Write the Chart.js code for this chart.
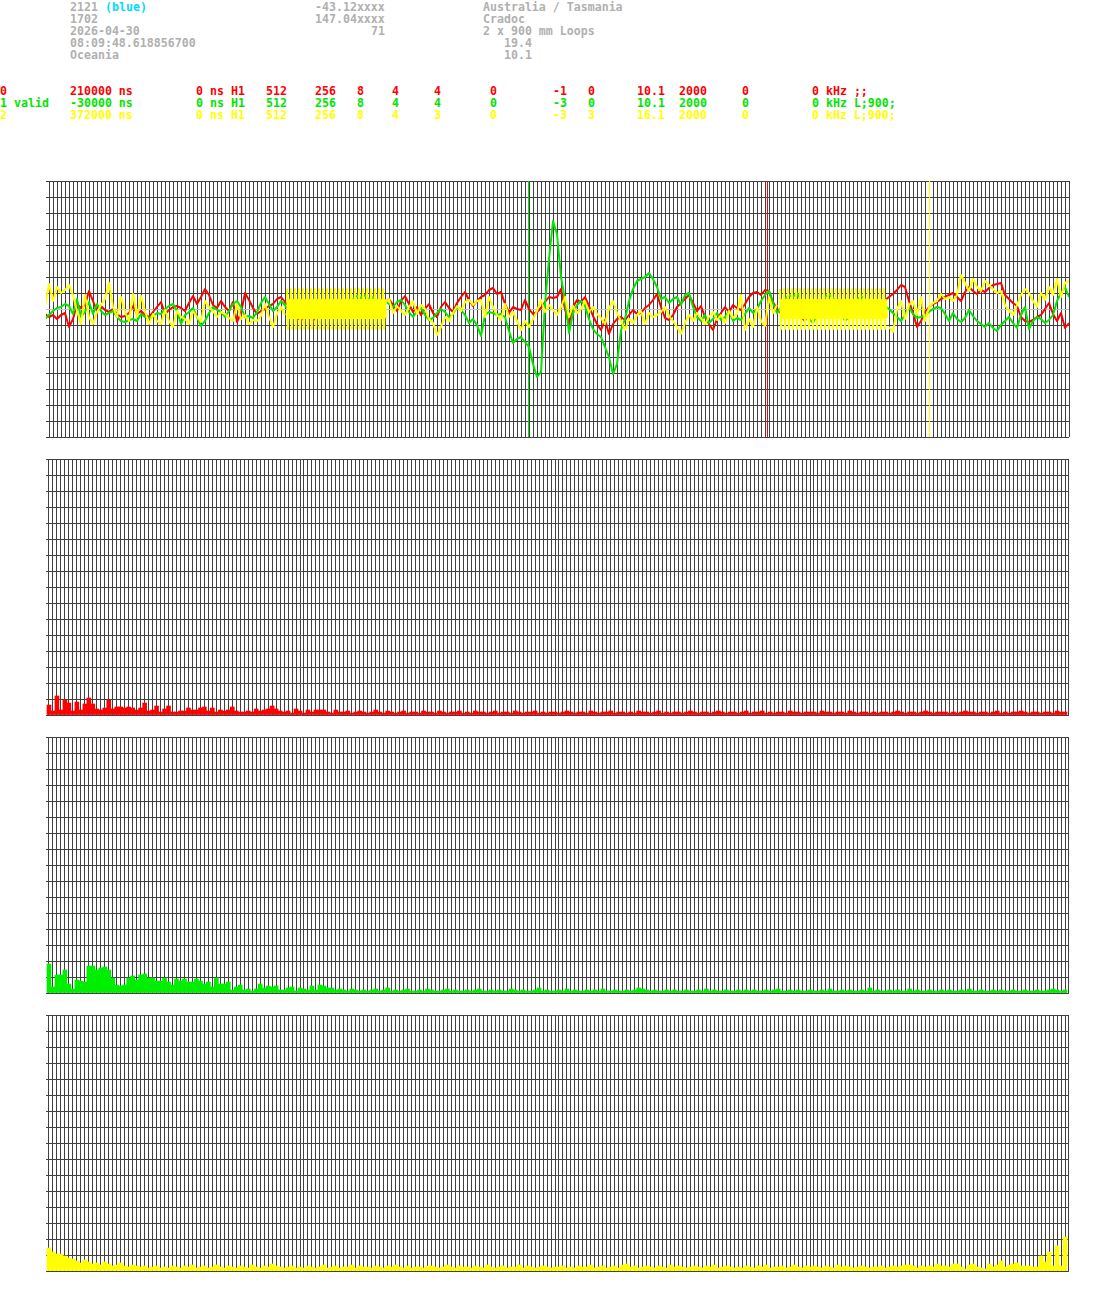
<!DOCTYPE html>
<html>
<head>
<meta charset="utf-8">
<script src="https://cdn.jsdelivr.net/npm/chart.js@4.4.1/dist/chart.umd.min.js"></script>
<style>
  body { margin: 0; background: #fff; width: 1095px; height: 1293px; position: relative; overflow: hidden; }
  .t { position: absolute; white-space: pre; font: bold 11.6px/12px "DejaVu Sans Mono", monospace; }
  .panel { position: absolute; left: 0; width: 1095px; height: 276px; }
</style>
</head>
<body>
<div id="txt"></div>
<div class="panel" style="top:171px"><canvas id="wave"></canvas></div>
<div class="panel" style="top:449px"><canvas id="histRed"></canvas></div>
<div class="panel" style="top:727px"><canvas id="histGreen"></canvas></div>
<div class="panel" style="top:1005px"><canvas id="histYellow"></canvas></div>
<script>
// text block: [column, text, colour]
const GRAY = '#b0b0b0', RED = '#ff0000', GREEN = '#00e600', YELLOW = '#ffff00', CYAN = '#00dcff';
const headerRows = [
  [[10, '2121', GRAY], [15, '(blue)', CYAN], [45, '-43.12xxxx', GRAY], [69, 'Australia / Tasmania', GRAY]],
  [[10, '1702', GRAY], [45, '147.04xxxx', GRAY], [69, 'Cradoc', GRAY]],
  [[10, '2026-04-30', GRAY], [53, '71', GRAY], [69, '2 x 900 mm Loops', GRAY]],
  [[10, '08:09:48.618856700', GRAY], [72, '19.4', GRAY]],
  [[10, 'Oceania', GRAY], [72, '10.1', GRAY]],
  [],
  [],
  [[0, '0'], [10, '210000 ns'], [28, '0 ns H1'], [38, '512'], [45, '256'], [51, '8'], [56, '4'], [62, '4'], [70, '0'], [79, '-1'], [84, '0'], [91, '10.1'], [97, '2000'], [106, '0'], [116, '0 kHz ;;']].map(p => [...p, RED]),
  [[0, '1 valid'], [10, '-30000 ns'], [28, '0 ns H1'], [38, '512'], [45, '256'], [51, '8'], [56, '4'], [62, '4'], [70, '0'], [79, '-3'], [84, '0'], [91, '10.1'], [97, '2000'], [106, '0'], [116, '0 kHz L;900;']].map(p => [...p, GREEN]),
  [[0, '2'], [10, '372000 ns'], [28, '0 ns H1'], [38, '512'], [45, '256'], [51, '8'], [56, '4'], [62, '3'], [70, '0'], [79, '-3'], [84, '3'], [91, '16.1'], [97, '2000'], [106, '0'], [116, '0 kHz L;900;']].map(p => [...p, YELLOW])
];

// waveform samples, one every 4 px, offset from centre line (up = positive)
const redTrace = [
  -5,-8,-6,-10,-6,-4,-18,-10,5,1,4,18,8,-2,3,-1,
  -3,0,-5,-8,-7,-4,3,-5,-2,-6,-8,-3,2,7,-5,-1,
  2,3,1,-2,6,13,5,12,20,14,4,1,8,2,-2,7,
  -13,-4,16,9,1,-5,-2,0,3,5,10,12,7,3,-4,-8,
  -12,-3,4,-12,-6,2,-8,1,-5,-2,-6,3,-7,0,4,-3,
  -5,2,-6,5,1,6,10,4,-2,8,13,5,-3,2,-6,0,
  5,-4,-8,2,7,1,-3,6,12,17,9,3,8,12,14,19,
  21,15,17,5,-4,2,0,-1,9,0,-5,-3,1,7,12,11,
  12,20,0,-15,2,9,7,12,3,-7,-15,-21,-11,-25,-15,-10,
  -8,-11,-6,-1,-5,-4,1,4,9,15,2,-9,-11,-6,2,6,
  10,14,6,-2,3,-8,-15,-21,-10,-4,2,-3,4,1,-1,5,
  12,16,17,14,19,18,7,0,-5,3,-10,-4,2,-8,-12,-3,
  1,-6,-9,0,-4,3,-7,-2,-11,-5,2,-3,-8,0,-6,4,
  1,6,9,12,15,19,24,22,8,-4,-18,-12,-3,2,5,7,
  10,12,14,16,12,8,17,22,18,15,19,17,21,24,25,26,
  14,10,6,3,-8,-12,-13,-11,-8,-6,0,6,-5,-12,-4,-19,
  -14
];
const greenTrace = [
  -10,-6,-2,1,2,5,3,-5,10,-8,-3,7,-5,5,-2,-6,
  -4,-2,-8,-12,-13,-11,-10,-12,-5,-8,-9,-7,-4,-5,0,3,
  5,-2,-15,-6,-3,1,-8,-17,-12,-4,2,-1,-3,-8,-2,5,
  8,2,-8,-7,-9,-3,6,12,5,-2,2,8,4,-3,2,-6,
  -10,0,4,-5,-8,3,6,-2,-7,1,5,8,4,10,13,11,
  14,9,12,6,3,8,5,2,7,9,4,-3,-8,-2,1,-6,
  -11,-9,-4,0,-3,-8,-5,2,-1,-6,-14,-10,-16,-27,-6,-3,
  -4,-6,-5,-8,-22,-34,-30,-28,-33,-38,-55,-68,-63,5,50,88,
  75,32,9,-24,-4,4,8,3,-10,-20,-25,-28,-38,-48,-65,-55,
  -21,-10,8,20,28,30,32,36,30,22,10,12,6,10,12,4,
  14,16,2,-8,-12,-6,-14,-10,-4,-11,-8,-2,-12,-9,-11,-5,
  1,-4,0,8,14,18,6,-4,2,10,14,12,16,8,4,-10,
  -14,-6,3,12,15,11,6,-4,-12,-8,2,9,13,10,4,-3,
  -9,-2,3,0,-4,-8,-12,-6,2,-5,-9,-8,-6,-3,0,2,
  1,-5,-12,-4,-10,-13,-9,-1,-7,-12,-15,-18,-14,-19,-22,-16,
  -12,-8,-14,-19,-6,2,-20,-12,-8,-10,-14,-11,-6,8,16,22,
  12
];
const yellowTrace = [
  2,25,8,22,16,19,24,14,-2,-15,14,-8,-15,-3,4,10,
  26,2,-8,12,-3,-12,15,-8,13,-2,-15,-5,-12,-15,-1,-12,
  -18,-2,-8,-10,-15,-2,-8,-13,8,2,-2,-8,-3,-5,-9,-12,
  5,-10,-6,-15,-11,-12,-7,5,-8,-18,-5,2,-6,null,null,null,
  null,null,null,null,null,null,null,null,null,null,null,null,null,null,null,null,
  null,null,null,null,null,6,10,-4,3,-2,-6,2,8,-5,4,0,
  -10,-14,-26,-18,-8,-12,-4,3,-2,7,9,4,8,9,-8,12,
  2,-6,-11,5,-8,-3,-12,-21,-12,-18,-10,-2,9,-3,4,-1,
  -6,2,12,-8,3,-4,0,8,-3,2,-5,-9,-15,1,8,-4,
  -12,-21,-10,-14,-6,-2,-15,-4,-8,-6,-3,2,-7,-12,-18,-25,
  -14,-6,-12,-4,-9,-15,-8,-3,-11,-6,-14,-2,-9,-5,14,-21,
  -10,-18,2,-12,-17,12,-4,4,null,null,null,null,null,null,null,null,
  null,null,null,null,null,null,null,null,null,null,null,null,null,null,null,null,
  null,null,null,-18,-23,0,8,-10,4,8,-6,12,-12,2,6,8,
  15,10,12,8,14,34,26,18,30,22,18,28,24,20,16,18,
  4,-2,-6,4,14,20,16,8,2,16,9,22,14,30,12,26,
  28
];
// fast burst segments of the yellow channel, one sample per px
const burst1Start = 238;
const burst1 = [
  20,-20,9,-9,20,-20,9,-9,20,-20,9,-9,20,-20,9,-9,20,-20,9,-9,
  20,-20,9,-9,20,-20,9,-9,20,-20,9,-9,20,-20,9,-9,20,-20,9,-9,
  20,-20,9,-9,20,-20,9,-9,20,-20,9,-9,20,-20,9,-9,20,-20,9,-9,
  20,-20,9,-9,20,-20,9,-9,20,-20,9,-9,20,-20,9,-9,20,-20,9,-9,
  20,-20,9,-9,20,-20,9,-9,20,-20,9,-9,20,-20,9,-9,20,-20,9,-9
];
const burst2Start = 731;
const burst2 = [
  20,-20,9,-9,20,-20,9,-9,20,-20,9,-9,20,-20,9,-9,20,-20,9,-9,
  20,-20,9,-9,20,-20,9,-9,20,-20,9,-9,20,-20,9,-9,20,-20,9,-9,
  20,-20,9,-9,20,-20,9,-9,20,-20,9,-9,20,-20,9,-9,20,-20,9,-9,
  20,-20,9,-9,20,-20,9,-9,20,-20,9,-9,20,-20,9,-9,20,-20,9,-9,
  20,-20,9,-9,20,-20,9,-9,20,-20,9,-9,20,-20,9,-9,20,-20,9,-9,
  20,-20,9,-9,20,-20,9,-9
];
// trigger markers (sample position) and colours
const markerPos = [479.5, 718.5, 880.5];
const markerColors = [GREEN, RED, YELLOW];

// spectra, 256 bins each
const redHist = [
  10,4,19,5,15,12,4,13,5,11,17,11,6,5,7,15,
  6,8,8,7,8,7,5,7,12,4,5,9,3,6,9,3,
  3,4,4,7,5,5,7,8,4,7,3,5,4,5,8,4,
  3,3,4,3,6,4,5,6,9,6,4,3,4,2,6,4,
  2,5,3,5,5,5,3,2,5,3,3,4,2,3,4,3,
  2,3,5,3,2,4,3,2,3,4,2,3,3,2,4,3,
  3,2,4,3,2,3,3,4,2,3,2,4,3,3,2,3,
  4,2,3,3,2,4,3,2,3,3,4,2,3,2,3,3,
  2,3,4,3,2,3,3,2,4,3,2,3,3,4,2,3,
  3,2,3,2,4,3,3,2,3,4,2,3,2,3,3,2,
  3,4,3,2,3,3,2,3,4,3,2,3,3,2,3,4,
  2,3,3,4,2,3,2,3,3,2,4,3,3,2,3,3,
  3,2,4,3,3,2,3,3,2,4,3,2,3,3,2,3,
  2,3,3,2,3,4,3,2,3,3,2,3,4,3,2,3,
  3,3,2,3,2,3,4,3,3,2,3,3,2,3,4,2,
  3,2,3,3,4,3,2,3,3,2,3,3,2,4,3,3
];
const greenHist = [
  29,6,18,18,23,9,4,13,12,11,27,27,23,25,26,23,
  15,8,7,8,15,17,13,18,19,15,15,12,12,15,11,8,
  14,12,14,11,11,14,12,9,11,6,15,9,9,11,3,6,
  8,3,4,2,4,9,5,7,6,7,3,3,5,6,2,5,
  4,3,7,3,8,7,5,5,3,4,3,2,4,3,2,3,
  2,3,4,2,3,5,2,3,2,3,4,2,2,3,2,4,
  3,2,2,3,4,2,3,2,2,3,2,3,4,2,2,3,
  2,3,2,2,4,3,2,3,2,2,3,5,2,3,2,2,
  3,2,4,2,3,2,2,3,2,3,2,4,2,2,3,2,
  2,3,2,3,5,4,3,2,3,2,2,3,2,3,2,2,
  3,2,2,3,2,4,2,3,2,2,3,2,2,3,2,3,
  2,3,2,2,3,2,3,4,2,2,3,2,3,2,2,3,
  2,2,3,2,4,2,2,3,2,3,2,2,3,2,5,2,
  3,2,2,3,2,3,2,2,4,2,3,2,2,3,2,2,
  3,2,3,2,2,3,2,4,2,2,3,2,2,3,2,3,
  2,2,3,2,2,3,2,2,3,2,2,3,4,3,2,3
];
const yellowHist = [
  23,19,17,17,15,13,12,10,8,11,9,7,8,6,9,7,
  5,6,8,5,4,6,5,4,5,3,4,5,3,4,3,5,
  4,3,5,4,6,3,4,5,3,4,6,4,3,5,4,3,
  5,4,3,6,4,3,5,4,7,5,4,3,4,5,3,4,
  3,5,4,3,4,6,3,4,5,3,4,4,6,3,5,4,
  4,3,5,4,3,5,4,6,4,3,5,3,4,4,3,5,
  5,4,3,4,6,4,3,5,4,4,3,5,4,3,6,4,
  3,4,5,3,4,4,6,3,5,4,3,4,5,4,3,4,
  4,5,3,4,3,5,4,4,6,3,4,5,3,4,5,3,
  6,7,4,5,3,4,5,4,3,5,4,3,6,4,5,4,
  3,4,5,4,3,5,4,6,3,4,5,4,3,4,3,5,
  4,3,5,4,6,3,4,4,5,3,4,6,4,3,5,4,
  5,4,3,5,4,3,6,4,5,4,3,4,5,4,3,4,
  4,5,3,4,5,4,5,6,6,5,3,5,4,5,4,7,
  5,5,4,7,7,4,2,6,7,4,3,2,7,4,6,10,
  4,6,7,8,5,5,5,4,4,15,9,19,5,25,5,34
];

// ---- text ----
const txt = document.getElementById('txt');
headerRows.forEach((row, r) => {
  row.forEach(([col, text, color]) => {
    const s = document.createElement('span');
    s.className = 't';
    s.textContent = text;
    s.style.left = (col * 7) + 'px';
    s.style.top = (1 + r * 12) + 'px';
    s.style.color = color;
    txt.appendChild(s);
  });
});

// ---- charts ----
const GRID = '#404040';

function options(yMin, yMax, yGridColor) {
  return {
    animation: false,
    responsive: true,
    maintainAspectRatio: false,
    devicePixelRatio: 1,
    events: [],
    layout: { padding: { left: 46, right: 26, top: 10, bottom: 10 }, autoPadding: false },
    plugins: { legend: { display: false }, tooltip: { enabled: false } },
    scales: {
      x: {
        type: 'linear', min: -3, max: 1020, bounds: 'data',
        afterBuildTicks: (scale) => {
          const ticks = [];
          for (let v = 0; v <= 1020; v += 4) ticks.push({ value: v });
          scale.ticks = ticks;
        },
        ticks: { display: false },
        grid: { color: GRID, lineWidth: 1, drawTicks: false },
        border: { display: false }
      },
      y: {
        min: yMin, max: yMax,
        ticks: { display: false, stepSize: 16 },
        grid: { color: yGridColor, lineWidth: 1, drawTicks: false },
        border: { display: false }
      }
    }
  };
}

const traceLine = (vals) => vals.map((v, k) => ({ x: k * 4 - 4, y: v }));
const burstLine = (start, vals) => vals.map((v, i) => ({ x: start + i, y: v }));
const lineStyle = (color, width) => ({
  borderColor: color, borderWidth: width, pointRadius: 0, tension: 0,
  spanGaps: false, borderJoinStyle: 'round', clip: 0, fill: false
});

// dataset 0 is drawn on top
const waveSets = [
  { data: burstLine(burst1Start, burst1), ...lineStyle(YELLOW, 2) },
  { data: burstLine(burst2Start, burst2), ...lineStyle(YELLOW, 2) },
  { data: traceLine(yellowTrace), ...lineStyle(YELLOW, 2) },
  { data: traceLine(greenTrace), ...lineStyle(GREEN, 2) },
  { data: traceLine(redTrace), ...lineStyle(RED, 2) },
  ...markerPos.map((u, i) => ({ data: [{ x: u, y: -128 }, { x: u, y: 128 }], ...lineStyle(markerColors[i], 1) }))
];

new Chart(document.getElementById('wave'), {
  type: 'line',
  data: { datasets: waveSets },
  options: options(-128, 128, (ctx) => ctx.tick && ctx.tick.value === 0 ? '#c4c4c4' : GRID)
});

function histChart(id, vals, color) {
  new Chart(document.getElementById(id), {
    type: 'bar',
    data: {
      datasets: [{
        data: vals.map((v, k) => ({ x: k * 4 - 2, y: v })),
        backgroundColor: color, borderWidth: 0,
        barPercentage: 1, categoryPercentage: 1, clip: 0
      }]
    },
    options: options(0, 256, GRID)
  });
}
histChart('histRed', redHist, RED);
histChart('histGreen', greenHist, '#00ee00');
histChart('histYellow', yellowHist, YELLOW);
</script>
</body>
</html>
